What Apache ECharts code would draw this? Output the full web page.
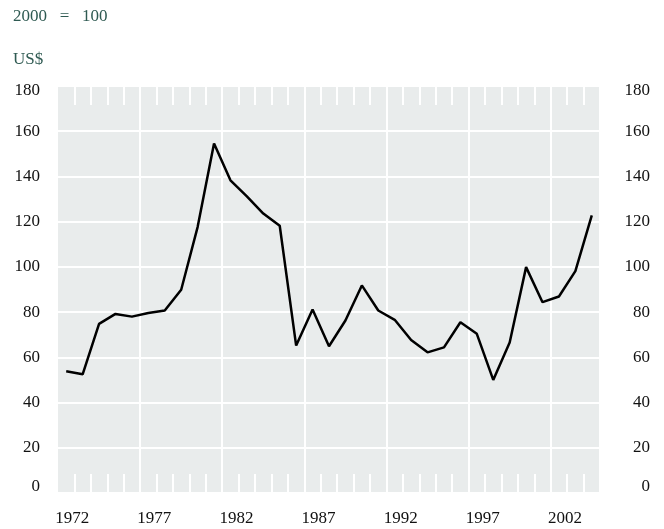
<!DOCTYPE html>
<html>
<head>
<meta charset="utf-8">
<script src="https://cdn.jsdelivr.net/npm/echarts@6/dist/echarts.min.js"></script>
<style>
  html, body { margin: 0; padding: 0; background: #fff; }
  #chart { width: 664px; height: 529px; }
</style>
</head>
<body>
<div id="chart"></div>
<script>
// years 1972..2004
const years = ['1972', '1973', '1974', '1975', '1976', '1977', '1978', '1979', '1980', '1981',
  '1982', '1983', '1984', '1985', '1986', '1987', '1988', '1989', '1990', '1991',
  '1992', '1993', '1994', '1995', '1996', '1997', '1998', '1999', '2000', '2001',
  '2002', '2003', '2004']
// index, 2000 = 100
const values = [53.8, 52.5, 74.8, 79.2, 78.0, 79.6, 80.7, 89.9, 117.6, 154.6,
  138.3, 131.2, 123.6, 118.2, 65.2, 81.2, 64.9, 76.3, 91.8, 80.7,
  76.6, 67.7, 62.2, 64.4, 75.5, 70.4, 50.0, 66.6, 99.9, 84.4,
  86.9, 98.1, 122.8]
const yMin = 0
const yMax = 180
const yStep = 20

const serif = "'Liberation Serif', 'Times New Roman', serif"
const bg = '#e9ecec'
const titleColor = '#2f5a52'

const chart = echarts.init(document.getElementById('chart'))

// 0 和 180 的标签往里收一点
const yLabel = (v) => {
  if (v === yMin) return '{lo|' + v + '}'
  if (v === yMax) return '{hi|' + v + '}'
  return '{n|' + v + '}'
}
const yRich = {
  n: { fontFamily: serif, fontSize: 17, color: '#111' },
  lo: { fontFamily: serif, fontSize: 17, color: '#111', padding: [0, 0, 13, 0] },
  hi: { fontFamily: serif, fontSize: 17, color: '#111', padding: [9, 0, 0, 0] }
}

const tickStyle = {
  show: true,
  inside: true,
  length: 19,
  interval: (i) => i > 0,
  lineStyle: { color: '#fff', width: 2 }
}

const option = {
  animation: false,
  backgroundColor: '#fff',
  title: [
    {
      text: '2000   =   100',
      left: 8,
      top: 3,
      textStyle: { fontFamily: serif, fontSize: 17, fontWeight: 'normal', color: titleColor }
    },
    {
      text: 'US$',
      left: 8,
      top: 46,
      textStyle: { fontFamily: serif, fontSize: 17, fontWeight: 'normal', color: titleColor }
    }
  ],
  grid: {
    left: 58,
    right: 64,
    top: 86,
    bottom: 36,
    show: true,
    backgroundColor: bg,
    borderWidth: 0
  },
  xAxis: [
    {
      type: 'category',
      data: years,
      boundaryGap: true,
      position: 'bottom',
      axisLine: { show: false, onZero: false },
      axisTick: tickStyle,
      axisLabel: {
        interval: 4,
        margin: 17,
        padding: [0, 0, 0, 12],
        fontFamily: serif,
        fontSize: 17,
        color: '#111'
      },
      splitLine: {
        show: true,
        interval: (i) => i > 0 && i % 5 === 0,
        lineStyle: { color: '#fff', width: 2 }
      }
    },
    {
      type: 'category',
      data: years,
      boundaryGap: true,
      position: 'top',
      axisLine: { show: false, onZero: false },
      axisTick: tickStyle,
      axisLabel: { show: false },
      splitLine: { show: false }
    }
  ],
  yAxis: [
    {
      type: 'value',
      position: 'left',
      min: yMin,
      max: yMax,
      interval: yStep,
      axisLine: { show: false },
      axisTick: { show: false },
      axisLabel: { margin: 18, formatter: yLabel, rich: yRich },
      splitLine: { show: true, lineStyle: { color: '#fff', width: 2 } }
    },
    {
      type: 'value',
      position: 'right',
      min: yMin,
      max: yMax,
      interval: yStep,
      axisLine: { show: false },
      axisTick: { show: false },
      axisLabel: { margin: 50, align: 'right', formatter: yLabel, rich: yRich },
      splitLine: { show: false }
    }
  ],
  series: [
    {
      type: 'line',
      data: values,
      xAxisIndex: 0,
      yAxisIndex: 0,
      symbol: 'none',
      lineStyle: { color: '#000', width: 2.5 },
      z: 5
    }
  ]
}

chart.setOption(option)
</script>
</body>
</html>
